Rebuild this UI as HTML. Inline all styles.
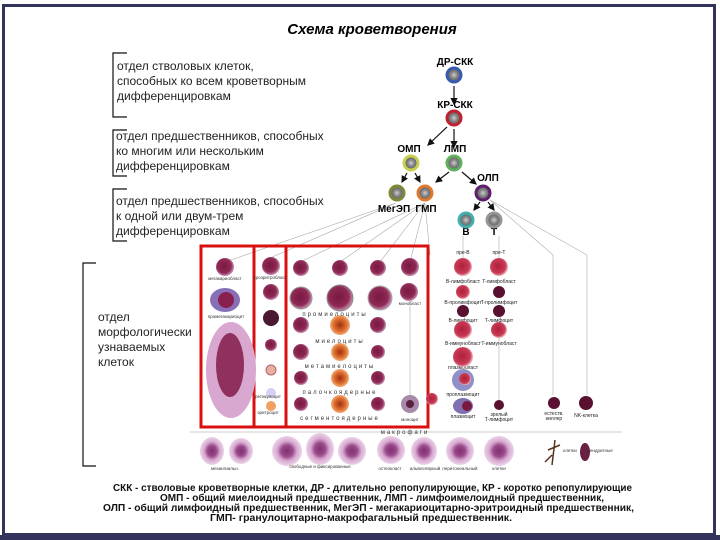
<!DOCTYPE html>
<html><head><meta charset="utf-8"><style>
html,body{margin:0;padding:0;background:#fff}
svg{display:block;font-family:"Liberation Sans",sans-serif}
</style></head><body>
<svg width="720" height="540" viewBox="0 0 720 540" xmlns="http://www.w3.org/2000/svg">
<defs>
<radialGradient id="g" cx="50%" cy="50%" r="50%"><stop offset="0" stop-color="#cfcfcf"/><stop offset=".45" stop-color="#888"/><stop offset="1" stop-color="#555"/></radialGradient>
<radialGradient id="cell" cx="45%" cy="45%" r="55%"><stop offset="0" stop-color="#7a1840"/><stop offset=".7" stop-color="#8e2a55"/><stop offset="1" stop-color="#c890b0"/></radialGradient>
<radialGradient id="red" cx="45%" cy="45%" r="55%"><stop offset="0" stop-color="#b0203a"/><stop offset=".75" stop-color="#c83a55"/><stop offset="1" stop-color="#f0b8c0"/></radialGradient>
<radialGradient id="or" cx="50%" cy="50%" r="55%"><stop offset="0" stop-color="#a03010"/><stop offset=".6" stop-color="#e07030"/><stop offset="1" stop-color="#f5c090"/></radialGradient>
<radialGradient id="mac" cx="50%" cy="50%" r="55%"><stop offset="0" stop-color="#803070"/><stop offset=".35" stop-color="#9a4a8a"/><stop offset=".6" stop-color="#d8a8d0"/><stop offset="1" stop-color="#f0e0f0"/></radialGradient>
<marker id="a" markerWidth="6" markerHeight="6" refX="5" refY="3" orient="auto"><path d="M0,0L6,3L0,6z" fill="#111"/></marker>
</defs>
<rect width="720" height="540" fill="#fff"/>
<rect x="3.5" y="5.5" width="711" height="529" fill="none" stroke="#33335c" stroke-width="3"/>
<rect x="0" y="535" width="720" height="5" fill="#33335c"/>
<text x="372" y="34" font-size="15" font-weight="bold" font-style="italic" text-anchor="middle">Схема кроветворения</text>

<g stroke="#111" stroke-width="1.2" fill="none">
<path d="M127,53H113V117H127"/>
<path d="M127,130H113V176H127"/>
<path d="M127,189H113V241H127"/>
<path d="M96,263H83V466H96"/>
</g>
<g font-size="12" fill="#222">
<text x="117" y="70">отдел стволовых клеток,</text>
<text x="117" y="85">способных ко всем кроветворным</text>
<text x="117" y="100">дифференцировкам</text>
<text x="116" y="140">отдел предшественников, способных</text>
<text x="116" y="155">ко многим или нескольким</text>
<text x="116" y="170">дифференцировкам</text>
<text x="116" y="205">отдел предшественников, способных</text>
<text x="116" y="220">к одной или двум-трем</text>
<text x="116" y="235">дифференцировкам</text>
<text x="98" y="321">отдел</text>
<text x="98" y="336">морфологически</text>
<text x="98" y="351">узнаваемых</text>
<text x="98" y="366">клеток</text>
</g>

<g stroke="#aaa" stroke-width="0.6" fill="none">
<path d="M396,203L225,262M396,203L270,258M425,203L300,262M425,203L340,262M425,203L380,262M425,203L410,262M425,203L430,255"/>
<path d="M490,200L553,255L553,395M490,200L587,255L587,395"/>
<path d="M410,300V400M499,318V400"/>
<path d="M463,236V262M499,236V262"/>
</g>
<g stroke="#bbb" stroke-width="0.8"><path d="M190,432H622"/></g>

<g font-size="10" font-weight="bold" text-anchor="middle">
<text x="455" y="65">ДР-СКК</text>
<text x="455" y="108">КР-СКК</text>
<text x="409" y="152">ОМП</text>
<text x="455" y="152">ЛМП</text>
<text x="488" y="181">ОЛП</text>
<text x="394" y="212">МегЭП</text>
<text x="426" y="212">ГМП</text>
<text x="466" y="235">В</text>
<text x="494" y="235">Т</text>
</g>
<g stroke="#111" stroke-width="1.2" marker-end="url(#a)">
<path d="M454,86V104"/><path d="M447,127L428,145"/><path d="M454,129V147"/>
<path d="M407,173L402,182"/><path d="M415,173L420,182"/><path d="M449,172L436,182"/><path d="M462,172L476,184"/>
<path d="M480,202L474,210"/><path d="M488,202L494,210"/>
</g>
<g stroke-width="3">
<circle cx="454" cy="75" r="7" fill="url(#g)" stroke="#3a5ab0"/>
<circle cx="454" cy="118" r="7" fill="url(#g)" stroke="#c02030"/>
<circle cx="411" cy="163" r="7" fill="url(#g)" stroke="#c8d050"/>
<circle cx="454" cy="163" r="7" fill="url(#g)" stroke="#60b060"/>
<circle cx="397" cy="193" r="7" fill="url(#g)" stroke="#808838"/>
<circle cx="425" cy="193" r="7" fill="url(#g)" stroke="#e07830"/>
<circle cx="483" cy="193" r="7" fill="url(#g)" stroke="#602070"/>
<circle cx="466" cy="220" r="7" fill="url(#g)" stroke="#40b0b0"/>
<circle cx="494" cy="220" r="7" fill="url(#g)" stroke="#909890"/>
</g>

<g fill="none" stroke="#d81010" stroke-width="3">
<rect x="201" y="246" width="227" height="181"/>
<path d="M254,246V427M286,246V427"/>
</g>

<circle cx="225" cy="267" r="9" fill="url(#cell)"/>
<ellipse cx="225" cy="300" rx="15" ry="12" fill="#8870b8"/><circle cx="226" cy="300" r="8" fill="#8a2050"/>
<ellipse cx="231" cy="370" rx="25" ry="48" fill="#d8a8d0"/><ellipse cx="230" cy="365" rx="14" ry="32" fill="#90305f"/>
<circle cx="271" cy="266" r="9" fill="url(#cell)"/>
<circle cx="271" cy="292" r="8" fill="url(#cell)"/>
<circle cx="271" cy="318" r="8" fill="#4a1830"/>
<circle cx="271" cy="345" r="6" fill="url(#cell)"/>
<circle cx="271" cy="370" r="5" fill="#e8b0a0" stroke="#b06070"/>
<circle cx="271" cy="393" r="5" fill="#d8d0f0"/>
<circle cx="271" cy="406" r="5" fill="#f0a060"/>
<g fill="url(#cell)">
<circle cx="301" cy="268" r="8"/><circle cx="340" cy="268" r="8"/><circle cx="378" cy="268" r="8"/><circle cx="410" cy="267" r="9"/>
<circle cx="301" cy="298" r="11" stroke="#999"/><circle cx="340" cy="298" r="13" stroke="#888"/><circle cx="380" cy="298" r="12" stroke="#aaa"/><circle cx="409" cy="292" r="9"/>
<circle cx="301" cy="325" r="8"/><circle cx="378" cy="325" r="8"/>
<circle cx="301" cy="352" r="8"/><circle cx="378" cy="352" r="7"/>
<circle cx="301" cy="378" r="7"/><circle cx="378" cy="378" r="7"/>
<circle cx="301" cy="404" r="7"/><circle cx="378" cy="404" r="7"/>
</g>
<g fill="url(#or)">
<circle cx="340" cy="325" r="10"/><circle cx="340" cy="352" r="9"/><circle cx="340" cy="378" r="9"/><circle cx="340" cy="404" r="9"/>
</g>
<circle cx="410" cy="404" r="9" fill="#a88aa8"/><circle cx="410" cy="404" r="4" fill="#5a2040"/>
<circle cx="432" cy="399" r="6" fill="url(#red)"/>
<g font-size="6" text-anchor="middle" fill="#333" letter-spacing="2">
<text x="335" y="316">промиелоциты</text>
<text x="340" y="343">миелоциты</text>
<text x="340" y="368">метамиелоциты</text>
<text x="340" y="394">палочкоядерные</text>
<text x="340" y="420">сегментоядерные</text>
<text x="405" y="434">макрофаги</text>
</g>
<g font-size="4.5" fill="#333" text-anchor="middle">
<text x="225" y="280">мегакариобласт</text><text x="226" y="318">промегакариоцит</text>
<text x="270" y="279">проэритробласт</text><text x="410" y="305">монобласт</text><text x="410" y="421">моноцит</text>
<text x="268" y="398">ретикулоцит</text><text x="268" y="414">эритроцит</text>
</g>

<g font-size="5" text-anchor="middle" fill="#222">
<text x="463" y="254">пре-B</text><text x="499" y="254">пре-T</text>
<text x="463" y="283">B-лимфобласт</text><text x="499" y="283">T-лимфобласт</text>
<text x="463" y="304">B-пролимфоцит</text><text x="499" y="304">T-пролимфоцит</text>
<text x="463" y="322">B-лимфоцит</text><text x="499" y="322">T-лимфоцит</text>
<text x="463" y="345">B-иммунобласт</text><text x="499" y="345">T-иммунобласт</text>
<text x="463" y="369">плазмобласт</text><text x="463" y="396">проплазмоцит</text><text x="463" y="418">плазмоцит</text>
<text x="499" y="416">зрелый</text><text x="499" y="421">T-лимфоцит</text>
<text x="554" y="415">естеств.</text><text x="554" y="420">киллер</text><text x="586" y="417">NK-клетка</text>
</g>
<g fill="url(#red)">
<circle cx="463" cy="267" r="9"/><circle cx="499" cy="267" r="9"/>
<circle cx="463" cy="292" r="7"/><circle cx="463" cy="330" r="9"/><circle cx="499" cy="330" r="8"/>
<circle cx="463" cy="357" r="10"/><circle cx="463" cy="380" r="11" fill="#9090c8"/><circle cx="465" cy="379" r="6"/>
</g>
<g fill="#5a1030"><circle cx="499" cy="292" r="6"/><circle cx="463" cy="311" r="6"/><circle cx="499" cy="311" r="6"/><circle cx="499" cy="405" r="5"/><circle cx="554" cy="403" r="6"/><circle cx="586" cy="403" r="7"/></g>
<ellipse cx="463" cy="406" rx="10" ry="8" fill="#8070b0"/><circle cx="467" cy="406" r="5" fill="#7a1840"/>

<g fill="url(#mac)">
<ellipse cx="212" cy="451" rx="12" ry="14"/><ellipse cx="241" cy="451" rx="12" ry="13"/>
<ellipse cx="287" cy="451" rx="15" ry="15"/><ellipse cx="320" cy="449" rx="14" ry="16"/><ellipse cx="352" cy="451" rx="14" ry="14"/>
<ellipse cx="391" cy="450" rx="14" ry="14"/><ellipse cx="424" cy="451" rx="13" ry="14"/><ellipse cx="460" cy="451" rx="14" ry="14"/><ellipse cx="499" cy="451" rx="15" ry="15"/>
</g>
<path d="M555,440L552,465M548,450L560,445M552,455L545,462" stroke="#5a3020" stroke-width="1.5"/>
<ellipse cx="585" cy="452" rx="5" ry="9" fill="#6a2040"/>
<g font-size="4.5" fill="#333" text-anchor="middle">
<text x="225" y="470">мезангиальн.</text><text x="320" y="468">свободные и фиксированные</text>
<text x="390" y="470">остеокласт</text><text x="425" y="470">альвеолярный</text><text x="460" y="470">перитонеальный</text><text x="499" y="470">клетки</text>
<text x="570" y="452">клетки</text><text x="600" y="452">дендритные</text>
</g>

<g font-size="9.8" font-weight="bold" fill="#111" lengthAdjust="spacingAndGlyphs">
<text x="113" y="491" textLength="519" lengthAdjust="spacingAndGlyphs">СКК - стволовые кроветворные клетки, ДР - длительно репопулирующие, КР - коротко репопулирующие</text>
<text x="160" y="501" textLength="444" lengthAdjust="spacingAndGlyphs">ОМП - общий миелоидный предшественник, ЛМП - лимфоимелоидный предшественник,</text>
<text x="103" y="511" textLength="531" lengthAdjust="spacingAndGlyphs">ОЛП - общий лимфоидный предшественник, МегЭП - мегакариоцитарно-эритроидный предшественник,</text>
<text x="210" y="521" textLength="302" lengthAdjust="spacingAndGlyphs">ГМП- гранулоцитарно-макрофагальный предшественник.</text>
</g>
</svg>
</body></html>
